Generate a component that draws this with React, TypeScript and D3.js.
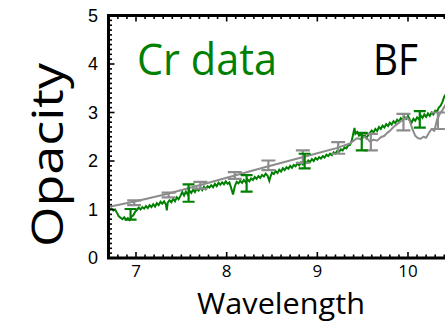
import React from "react";
import * as d3 from "d3";

const W = 445;
const H = 322;

// Cr data (green) spectrum: [wavelength, opacity]
const crData: [number, number][] = [
  [6.69, 1.03], [6.71, 0.99], [6.73, 1.02], [6.75, 0.98], [6.77, 1.0], [6.79, 0.93],
  [6.81, 0.86], [6.83, 0.83], [6.85, 0.8], [6.87, 0.84], [6.89, 0.79], [6.91, 0.82],
  [6.93, 0.78], [6.95, 0.85], [6.97, 0.88], [6.99, 0.95], [7.01, 0.99], [7.03, 1.04],
  [7.05, 1.0], [7.07, 1.05], [7.09, 1.02], [7.11, 1.07], [7.13, 1.03], [7.15, 1.09],
  [7.17, 1.05], [7.19, 1.11], [7.21, 1.06], [7.23, 1.13], [7.25, 1.09], [7.27, 1.16],
  [7.29, 1.12], [7.31, 1.17], [7.33, 1.1], [7.34, 0.98], [7.35, 1.14], [7.37, 1.19],
  [7.39, 1.15], [7.41, 1.22], [7.43, 1.17], [7.45, 1.25], [7.47, 1.21], [7.49, 1.28],
  [7.51, 1.36], [7.53, 1.29], [7.55, 1.37], [7.57, 1.31], [7.59, 1.39], [7.61, 1.34],
  [7.63, 1.41], [7.65, 1.36], [7.67, 1.43], [7.69, 1.39], [7.71, 1.45], [7.73, 1.4],
  [7.75, 1.47], [7.77, 1.42], [7.79, 1.48], [7.81, 1.45], [7.83, 1.5], [7.85, 1.46],
  [7.87, 1.53], [7.89, 1.48], [7.91, 1.55], [7.93, 1.51], [7.95, 1.56], [7.97, 1.52],
  [7.99, 1.58], [8.01, 1.53], [8.03, 1.56], [8.05, 1.44], [8.07, 1.31], [8.09, 1.48],
  [8.11, 1.57], [8.13, 1.54], [8.15, 1.59], [8.17, 1.55], [8.19, 1.61], [8.21, 1.56],
  [8.23, 1.62], [8.25, 1.58], [8.27, 1.64], [8.29, 1.61], [8.31, 1.67], [8.33, 1.63],
  [8.35, 1.69], [8.37, 1.65], [8.39, 1.71], [8.41, 1.68], [8.43, 1.74], [8.45, 1.7],
  [8.47, 1.59], [8.48, 1.66], [8.5, 1.76], [8.52, 1.73], [8.54, 1.79], [8.56, 1.75],
  [8.58, 1.82], [8.6, 1.78], [8.62, 1.85], [8.64, 1.81], [8.66, 1.87], [8.68, 1.84],
  [8.7, 1.9], [8.72, 1.86], [8.74, 1.92], [8.76, 1.89], [8.78, 1.95], [8.8, 1.91],
  [8.82, 1.97], [8.84, 1.93], [8.86, 1.99], [8.88, 1.96], [8.9, 2.01], [8.92, 1.98],
  [8.94, 2.04], [8.96, 2.0], [8.98, 2.06], [9.0, 2.03], [9.02, 2.08], [9.04, 2.05],
  [9.06, 2.1], [9.08, 2.07], [9.1, 2.13], [9.12, 2.1], [9.14, 2.15], [9.16, 2.12],
  [9.18, 2.18], [9.2, 2.15], [9.22, 2.21], [9.24, 2.19], [9.26, 2.24], [9.28, 2.22],
  [9.3, 2.28], [9.32, 2.26], [9.34, 2.32], [9.36, 2.33], [9.38, 2.42], [9.4, 2.6],
  [9.41, 2.68], [9.42, 2.56], [9.44, 2.6], [9.46, 2.52], [9.48, 2.55], [9.5, 2.49],
  [9.52, 2.54], [9.54, 2.47], [9.56, 2.53], [9.58, 2.58], [9.6, 2.63], [9.62, 2.59],
  [9.64, 2.66], [9.66, 2.62], [9.68, 2.7], [9.7, 2.66], [9.72, 2.73], [9.74, 2.69],
  [9.76, 2.76], [9.78, 2.72], [9.8, 2.79], [9.82, 2.75], [9.84, 2.82], [9.86, 2.78],
  [9.88, 2.85], [9.9, 2.81], [9.92, 2.88], [9.94, 2.84], [9.96, 2.91], [9.98, 2.87],
  [10.0, 2.93], [10.02, 2.85], [10.04, 2.79], [10.06, 2.87], [10.08, 2.83], [10.1, 2.9],
  [10.12, 2.86], [10.14, 2.94], [10.16, 2.89], [10.18, 2.96], [10.2, 2.91], [10.22, 2.98],
  [10.24, 2.93], [10.26, 3.0], [10.28, 2.96], [10.3, 3.04], [10.32, 3.02], [10.34, 3.1],
  [10.36, 3.14], [10.38, 3.22], [10.4, 3.33], [10.42, 3.38],
];

// BF model (gray)
const bfModel: [number, number][] = [
  [6.69, 1.05], [7.0, 1.17], [7.34, 1.32], [7.7, 1.5], [8.07, 1.69], [8.4, 1.86],
  [8.7, 2.01], [9.0, 2.16], [9.2, 2.26], [9.36, 2.36], [9.4, 2.42], [9.44, 2.47],
  [9.48, 2.45], [9.52, 2.5], [9.55, 2.46], [9.58, 2.4], [9.62, 2.44], [9.66, 2.42],
  [9.7, 2.49], [9.74, 2.52], [9.77, 2.58], [9.8, 2.62], [9.84, 2.7], [9.88, 2.76],
  [9.92, 2.82], [9.96, 2.86], [9.99, 2.9], [10.02, 2.82], [10.05, 2.65], [10.08, 2.52],
  [10.11, 2.47], [10.14, 2.46], [10.17, 2.5], [10.2, 2.48], [10.23, 2.58], [10.26, 2.66],
  [10.29, 2.62], [10.32, 2.85], [10.35, 2.97], [10.38, 3.05], [10.42, 3.18],
];

// error bars: [wavelength, value, half-error]
const bfBars: [number, number, number][] = [
  [6.98, 1.14, 0.05], [7.36, 1.3, 0.05], [7.71, 1.5, 0.07], [8.09, 1.7, 0.07],
  [8.46, 1.91, 0.1], [8.84, 2.09, 0.13], [9.23, 2.27, 0.12], [9.59, 2.39, 0.17],
  [9.95, 2.8, 0.17], [10.33, 2.83, 0.17],
];
const crBars: [number, number, number][] = [
  [6.94, 0.9, 0.11], [7.58, 1.34, 0.18], [8.22, 1.54, 0.17], [8.86, 2.0, 0.15],
  [9.49, 2.4, 0.18], [10.13, 2.86, 0.17],
];

const xTicks = [7, 8, 9, 10];
const yTicks = [0, 1, 2, 3, 4, 5];

const GREEN = "#008000";
const GRAY = "#8c8c8c";

export default function App() {
  const x = d3.scaleLinear().domain([7, 10]).range([136, 408]);
  const y = d3.scaleLinear().domain([0, 5]).range([258, 15.5]);
  const left = 108.5;
  const right = 470;
  const top = y(5);
  const bottom = y(0);

  const line = d3
    .line<[number, number]>()
    .x((d) => x(d[0]))
    .y((d) => y(d[1]));

  const xMinor = d3.range(Math.ceil(x.invert(left) * 10), Math.floor(x.invert(right) * 10) + 1).map((v) => v / 10);
  const yMinor = d3.range(0, 51).map((v) => v / 10);

  const bar = (b: [number, number, number], color: string, hw: number, key: string) => {
    const cx = x(b[0]);
    const y1 = y(b[1] - b[2]);
    const y2 = y(b[1] + b[2]);
    return (
      <g key={key} stroke={color} strokeWidth={2.2} fill="none">
        <line x1={cx} x2={cx} y1={y1} y2={y2} />
        <line x1={cx - hw} x2={cx + hw} y1={y1} y2={y1} />
        <line x1={cx - hw} x2={cx + hw} y1={y2} y2={y2} />
      </g>
    );
  };

  return (
    <svg
      width={W}
      height={H}
      style={{ position: "absolute", left: 0, top: 0, background: "#fff" }}
    >
      <rect width={W} height={H} fill="#fff" />
      <defs>
        <clipPath id="plot">
          <rect x={left} y={top} width={right - left} height={bottom - top} />
        </clipPath>
      </defs>

      <g clipPath="url(#plot)">
        <path d={line(crData) || ""} fill="none" stroke={GREEN} strokeWidth={2} strokeLinejoin="miter" />
        <path d={line(bfModel) || ""} fill="none" stroke={GRAY} strokeWidth={2} strokeLinejoin="round" />
        {bfBars.map((b, i) => bar(b, GRAY, 7, "g" + i))}
        {crBars.map((b, i) => bar(b, GREEN, 6, "c" + i))}
      </g>

      {/* minor / major ticks */}
      <g stroke="#000" strokeWidth={1.6}>
        {yMinor.map((v, i) => {
          const major = Math.abs(v - Math.round(v)) < 1e-6;
          return <line key={"ym" + i} x1={left} x2={left + (major ? 6 : 3.5)} y1={y(v)} y2={y(v)} />;
        })}
        {xMinor.map((v, i) => {
          const major = Math.abs(v - Math.round(v)) < 1e-6;
          const len = major ? 6 : 3.5;
          return (
            <g key={"xm" + i}>
              <line x1={x(v)} x2={x(v)} y1={bottom} y2={bottom - len} />
              <line x1={x(v)} x2={x(v)} y1={top} y2={top + len} />
            </g>
          );
        })}
      </g>

      {/* frame */}
      <rect x={left} y={top} width={right - left} height={bottom - top} fill="none" stroke="#000" strokeWidth={3} />

      {/* y tick labels */}
      <g fontFamily="Liberation Sans, Arial, sans-serif" fontSize={18} fill="#000" textAnchor="end">
        {yTicks.map((t) => (
          <text key={"yt" + t} x={98} y={y(t)} dy="0.35em">
            {t}
          </text>
        ))}
      </g>

      {/* x tick labels */}
      <g fontFamily="Open Sans, sans-serif" fontSize={17} fill="#000" textAnchor="middle">
        {xTicks.map((t) => (
          <text key={"xt" + t} x={x(t)} y={277}>
            {t}
          </text>
        ))}
      </g>

      <text
        x={137}
        y={75}
        fontFamily="Open Sans, sans-serif"
        fontSize={44}
        fill={GREEN}
        textLength={140}
        lengthAdjust="spacingAndGlyphs"
      >
        Cr data
      </text>
      <text
        x={373}
        y={75}
        fontFamily="Open Sans, sans-serif"
        fontSize={44}
        fill="#000"
        textLength={45}
        lengthAdjust="spacingAndGlyphs"
      >
        BF
      </text>

      <text
        x={197}
        y={314}
        fontFamily="Open Sans, sans-serif"
        fontSize={30}
        fill="#000"
        textLength={168}
        lengthAdjust="spacingAndGlyphs"
      >
        Wavelength
      </text>

      <text
        transform="translate(63,155) rotate(-90)"
        textAnchor="middle"
        fontFamily="Open Sans, sans-serif"
        fontSize={44}
        fill="#000"
        textLength={184}
        lengthAdjust="spacingAndGlyphs"
      >
        Opacity
      </text>
    </svg>
  );
}
